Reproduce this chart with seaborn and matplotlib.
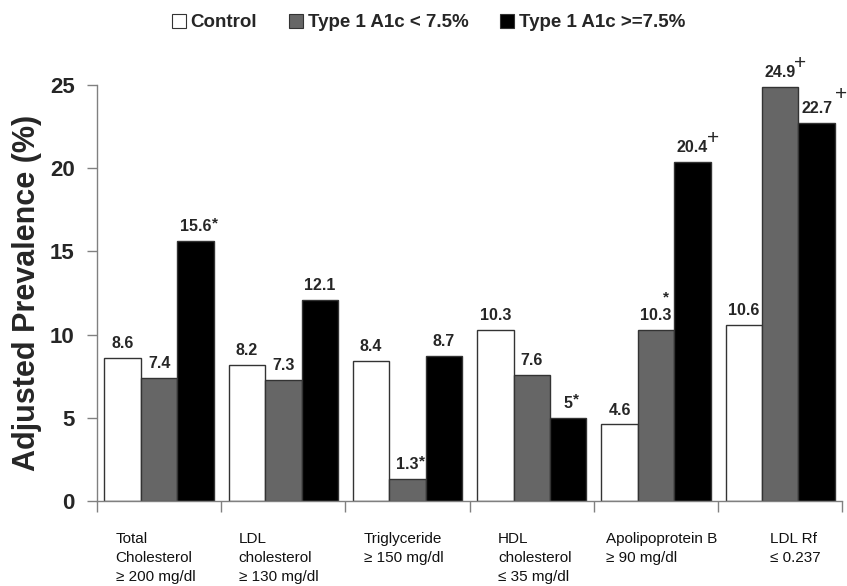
import numpy as np
import pandas as pd
import matplotlib
matplotlib.use("Agg")
import matplotlib.pyplot as plt
import seaborn as sns

categories = ["Total\nCholesterol\n\u2265 200 mg/dl", "LDL\ncholesterol\n\u2265 130 mg/dl",
              "Triglyceride\n\u2265 150 mg/dl", "HDL\ncholesterol\n\u2264 35 mg/dl",
              "Apolipoprotein B\n\u2265 90 mg/dl", "LDL Rf\n\u2264 0.237"]
groups = ["Control", "Type 1 A1c < 7.5%", "Type 1 A1c >=7.5%"]
control = [8.6, 8.2, 8.4, 10.3, 4.6, 10.6]
type1_low = [7.4, 7.3, 1.3, 7.6, 10.3, 24.9]
type1_high = [15.6, 12.1, 8.7, 5, 20.4, 22.7]
marks_control = [""] * 6
marks_low = ["", "", "*", "", "*", "+"]
marks_high = ["*", "", "", "*", "+", "+"]

# layout tweaks (points / data units)
label_offsets = [0.15, 0.14, 0.15, 0.23, 0.10, 0.42]
mark_nudge = {(1, 4): (-7, 10), (2, 5): (3, 4)}

sns.set_style("white")
plt.rcParams["font.family"] = ["Liberation Sans", "DejaVu Sans"]

df = pd.DataFrame({
    "cat": categories * 3,
    "group": [g for g in groups for _ in categories],
    "val": control + type1_low + type1_high,
})

fig = plt.figure(figsize=(8.47, 5.86), dpi=100)
ax = fig.add_axes([0.1145, 0.145, 0.88, 0.710])
sns.barplot(data=df, x="cat", y="val", hue="group", order=categories, hue_order=groups,
            palette=["white", "#666666", "black"], edgecolor="#333333", linewidth=1,
            width=0.88, gap=0, ax=ax, saturation=1)

ax.set_xlim(-0.5, 5.5)
ax.set_ylim(0, 25)
ax.set_yticks([0, 5, 10, 15, 20, 25])
ax.set_ylabel("Adjusted Prevalence (%)", fontsize=22, fontweight="bold", labelpad=6)
ax.set_xlabel("")
for t in ax.get_yticklabels():
    t.set_fontsize(16)
    t.set_fontweight("bold")
ax.tick_params(axis="y", direction="out", length=7, width=1, color="#808080", left=True, pad=9)
ax.set_xticks(np.arange(-0.5, 6, 1))
ax.set_xticklabels([])
ax.tick_params(axis="x", direction="out", length=8, width=1, color="#808080", bottom=True)
sns.despine(ax=ax)
for s in ["left", "bottom"]:
    ax.spines[s].set_color("#808080")
    ax.spines[s].set_linewidth(1)

trans = ax.get_xaxis_transform()
for i, (lab, off) in enumerate(zip(categories, label_offsets)):
    ax.text(i - 0.5 + off, -0.075, lab, transform=trans, ha="left", va="top",
            fontsize=11, linespacing=1.45, color="#111111")

all_vals = [control, type1_low, type1_high]
all_marks = [marks_control, marks_low, marks_high]
fs = 11.5
for k, (cont, vals, marks) in enumerate(zip(ax.containers, all_vals, all_marks)):
    for j, (bar, v, m) in enumerate(zip(cont, vals, marks)):
        x = bar.get_x() + bar.get_width() / 2
        s = f"{v:g}"
        ax.annotate(s, (x, v), xytext=(0, 5), textcoords="offset points",
                    ha="center", va="bottom", fontsize=fs, fontweight="bold")
        if m:
            half = fs * sum(0.278 if c == "." else 0.556 for c in s) / 2
            dx, dy = mark_nudge.get((k, j), (0, 0))
            if m == "*":
                ax.annotate(m, (x, v), xytext=(half + 0.5 + dx, 8 + dy), textcoords="offset points",
                            ha="left", va="bottom", fontsize=11, fontweight="bold")
            else:
                ax.annotate(m, (x, v), xytext=(half - 1 + dx, 10 + dy), textcoords="offset points",
                            ha="left", va="bottom", fontsize=15)

sns.move_legend(ax, "center", bbox_to_anchor=(0.445, 1.15), ncol=3, frameon=False, title=None,
                fontsize=13.5, handlelength=0.75, handleheight=0.75, handletextpad=0.25,
                columnspacing=1.7)
for t in ax.get_legend().get_texts():
    t.set_fontweight("bold")
for h in ax.get_legend().legend_handles:
    h.set_edgecolor("#333333")
    h.set_linewidth(0.8)

fig.savefig("out.png", dpi=100)
